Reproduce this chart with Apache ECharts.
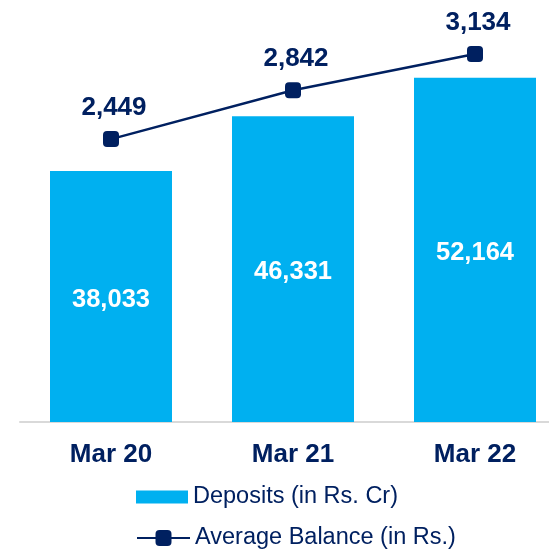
<!DOCTYPE html>
<html>
<head>
<meta charset="utf-8">
<style>
  html, body { margin: 0; padding: 0; background: #ffffff; }
  #chart { width: 549px; height: 549px; }
</style>
<script src="https://cdn.jsdelivr.net/npm/echarts@6/dist/echarts.min.js"></script>
</head>
<body>
<div id="chart"></div>
<script>
// Fiscal year-end labels
const categories = ['Mar 20', 'Mar 21', 'Mar 22'];
// Total deposits, Rs. crore
const deposits = [38033, 46331, 52164];
// Average balance per account, Rs.
const avgBalance = [2449, 2842, 3134];

const NAVY = '#002060';
const CYAN = '#00B0F0';
const FONT = 'Arial, "Liberation Sans", sans-serif';
const fmt = v => Number(v).toLocaleString('en-US');

const chart = echarts.init(document.getElementById('chart'), null, { renderer: 'canvas' });

chart.setOption({
  animation: false,
  backgroundColor: '#ffffff',
  // plot area runs past the right edge of the canvas
  grid: {
    left: 20, top: 26, width: 546, height: 396,
    containLabel: false, outerBoundsMode: 'none'
  },
  legend: [
    {
      data: [{ name: 'Deposits (in Rs. Cr)', icon: 'rect' }],
      left: 131, top: 480,
      itemWidth: 52, itemHeight: 13, itemGap: 5,
      textStyle: { color: NAVY, fontSize: 23.5, fontFamily: FONT },
      selectedMode: false
    },
    {
      data: ['Average Balance (in Rs.)'],
      left: 131, top: 521,
      itemWidth: 53, itemHeight: 20, itemGap: 5,
      textStyle: { color: NAVY, fontSize: 23.5, fontFamily: FONT },
      selectedMode: false
    }
  ],
  xAxis: {
    type: 'category',
    data: categories,
    axisTick: { show: false },
    axisLine: { show: true, lineStyle: { color: '#d9d9d9', width: 2 } },
    axisLabel: { color: NAVY, fontSize: 26, fontWeight: 'bold', fontFamily: FONT, margin: 20 }
  },
  yAxis: [
    { type: 'value', min: 0, max: 60000, show: false, splitLine: { show: false } },
    { type: 'value', min: 170, max: 3360, show: false, splitLine: { show: false } }
  ],
  series: [
    {
      name: 'Deposits (in Rs. Cr)',
      type: 'bar',
      data: deposits,
      yAxisIndex: 0,
      barWidth: 122,
      itemStyle: { color: CYAN },
      label: {
        show: true, position: 'inside', offset: [0, 3], color: '#ffffff',
        fontSize: 25.5, fontWeight: 'bold', fontFamily: FONT,
        formatter: p => fmt(p.value)
      }
    },
    {
      name: 'Average Balance (in Rs.)',
      type: 'line',
      data: avgBalance,
      yAxisIndex: 1,
      symbol: 'roundRect',
      symbolSize: 16,
      lineStyle: { color: NAVY, width: 2.5 },
      itemStyle: { color: NAVY },
      label: {
        show: true, position: 'top', distance: 10, offset: [3, 0], color: NAVY,
        fontSize: 26, fontWeight: 'bold', fontFamily: FONT,
        formatter: p => fmt(p.value)
      }
    }
  ]
});
</script>
</body>
</html>
